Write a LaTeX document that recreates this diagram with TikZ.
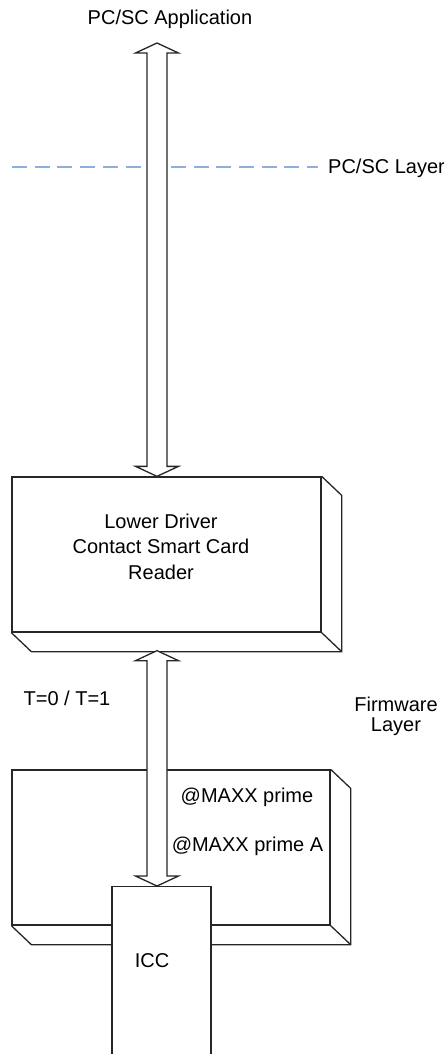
\documentclass[tikz,border=0pt]{standalone}
\usepackage{fontspec}
\setmainfont{Liberation Sans}
\usetikzlibrary{calc}
\usetikzlibrary{positioning}
\definecolor{layer-blue}{HTML}{8EAEDB}
\definecolor{line-dark}{HTML}{262626}

\tikzset{
    layerbox/.style={draw=line-dark, line width=1.3pt, fill=white, inner sep=0pt},
    sideline/.style={draw=line-dark, line width=1.3pt},
    bigarrow/.style={draw=line-dark, line width=1.3pt, fill=white, line join=miter},
    txt/.style={font=\fontsize{20}{25.5}\selectfont, inner sep=0pt, anchor=base},
}

% hollow double arrow from top tip #1 to bottom tip #2
\newcommand{\hollowarrow}[2]{%
    \draw[bigarrow] (#1) -- ($(#1)+(21.5,10)$) -- ($(#1)+(10,10)$)
        -- ($(#2)+(10,-10)$) -- ($(#2)+(21.5,-10)$) -- (#2)
        -- ($(#2)+(-21.5,-10)$) -- ($(#2)+(-10,-10)$)
        -- ($(#1)+(-10,10)$) -- ($(#1)+(-21.5,10)$) -- cycle;
}

% depth of a layer box
\newcommand{\extrude}[1]{%
    \draw[sideline] (#1.north east) -- ++(20,19) |- ($(#1.south west)+(20,19)$) -- (#1.south west);
    \draw[sideline] (#1.south east) -- ++(20,19);
}

\begin{document}
\begin{tikzpicture}[x=1pt, y=-1pt]

    \clip (0,0) rectangle (444,1054);

    % pc/sc layer
    \draw[layer-blue, line width=1.3pt, dash pattern=on 15pt off 7.7pt] (12,167) -- (318,167);
    \node[txt, anchor=base west] (pcsclayer) at (328,173) {PC/SC Layer};

    % application
    \node[txt] (app) at (170,25) {PC/SC Application};
    \coordinate (apptip) at (157,43);

    % lower driver
    \node[layerbox, minimum width=309pt, minimum height=155pt] (driver) at (166.5,554.5) {};
    \extrude{driver}

    % firmware
    \node[layerbox, minimum width=318pt, minimum height=155pt] (firmware) at (171,847.5) {};
    \extrude{firmware}

    % card
    \node[layerbox, anchor=north, minimum width=99pt, minimum height=200pt] (icc) at (161.5,886) {};

    % arrows
    \coordinate (drvtop) at (apptip |- driver.north);
    \coordinate (drvback) at ($(apptip |- driver.south)+(0,18)$);
    \coordinate (icctop) at (apptip |- icc.north);
    \hollowarrow{apptip}{drvtop}
    \hollowarrow{drvback}{icctop}

    % texts
    \node[txt, align=center] (drvtxt) at (161,579) {Lower Driver\\Contact Smart Card\\Reader};
    \node[txt] (proto) at (67,705) {T=0 / T=1};
    \node[txt, align=center, font=\fontsize{20}{20}\selectfont] (fwlayer) at (396,731) {Firmware\\Layer};
    \node[txt] (maxx) at (247,802) {@MAXX prime};
    \node[txt] (maxxa) at (247.5,851) {@MAXX prime A};
    \node[txt] (icctxt) at (152,967) {ICC};

\end{tikzpicture}
\end{document}
